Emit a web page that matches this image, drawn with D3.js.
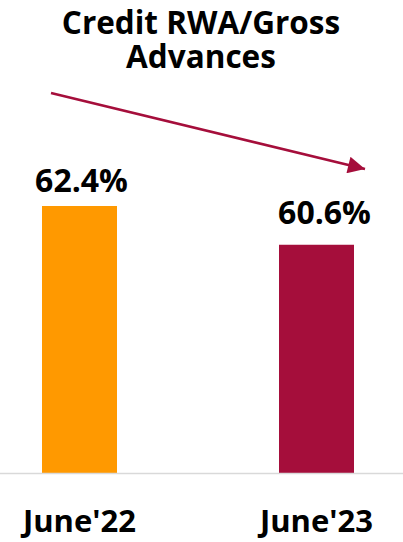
<!DOCTYPE html>
<html>
<head>
<meta charset="utf-8">
<script src="https://cdn.jsdelivr.net/npm/d3@7"></script>
<style>
  html, body { margin: 0; padding: 0; background: #fff; }
  svg text { font-family: "Open Sans", sans-serif; font-weight: bold; fill: #000; }
</style>
</head>
<body>
<svg id="chart"></svg>
<script>
var categories = ["June'22", "June'23"];
var values = [62.4, 60.6];
var valueLabels = ["62.4%", "60.6%"];
var colors = ["#FF9900", "#A50E3B"];
var titleLines = ["Credit RWA/Gross", "Advances"];

var width = 403, height = 542;
var baseY = 473;

var svg = d3.select("#chart")
  .attr("width", width)
  .attr("height", height);

var x = d3.scalePoint()
  .domain(categories)
  .range([79.5, 316.5]);

// axis starts at 50, not zero
var y = d3.scaleLinear()
  .domain([50, 62.4])
  .range([baseY, 206]);

var barW = 75;
var labelGap = [14, 21];
var labelShift = [2, 8];

// title as one text block, two lines
svg.append("text")
  .attr("text-anchor", "middle")
  .style("font-size", "31.5px")
  .selectAll("tspan")
  .data(titleLines)
  .enter().append("tspan")
    .attr("x", 201)
    .attr("y", function(d, i) { return 34 + i * 34; })
    .text(function(d) { return d; });

svg.append("g")
  .selectAll("rect")
  .data(values)
  .enter().append("rect")
    .attr("x", function(d, i) { return x(categories[i]) - barW / 2; })
    .attr("y", function(d) { return y(d); })
    .attr("width", barW)
    .attr("height", function(d) { return baseY - y(d); })
    .attr("fill", function(d, i) { return colors[i]; });

svg.append("line")
  .attr("x1", 0)
  .attr("x2", width)
  .attr("y1", baseY + 0.5)
  .attr("y2", baseY + 0.5)
  .attr("stroke", "#D9D9D9")
  .attr("stroke-width", 1.5);

svg.append("g")
  .selectAll("text")
  .data(values)
  .enter().append("text")
    .attr("x", function(d, i) { return x(categories[i]) + labelShift[i]; })
    .attr("y", function(d, i) { return y(d) - labelGap[i]; })
    .attr("text-anchor", "middle")
    .style("font-size", "32px")
    .text(function(d, i) { return valueLabels[i]; });

svg.append("g")
  .selectAll("text")
  .data(categories)
  .enter().append("text")
    .attr("x", function(d) { return x(d); })
    .attr("y", 532)
    .attr("text-anchor", "middle")
    .style("font-size", "31px")
    .text(function(d) { return d; });

// trend arrow
svg.append("defs").append("marker")
  .attr("id", "head")
  .attr("viewBox", "0 0 10 10")
  .attr("refX", 10)
  .attr("refY", 5)
  .attr("markerUnits", "userSpaceOnUse")
  .attr("markerWidth", 19)
  .attr("markerHeight", 17)
  .attr("orient", "auto")
  .append("path")
    .attr("d", "M0,0 L10,5 L0,10 Z")
    .attr("fill", "#A50E3B");

svg.append("line")
  .attr("x1", 51)
  .attr("y1", 93)
  .attr("x2", 365)
  .attr("y2", 169)
  .attr("stroke", "#A50E3B")
  .attr("stroke-width", 2.5)
  .attr("marker-end", "url(#head)");
</script>
</body>
</html>
